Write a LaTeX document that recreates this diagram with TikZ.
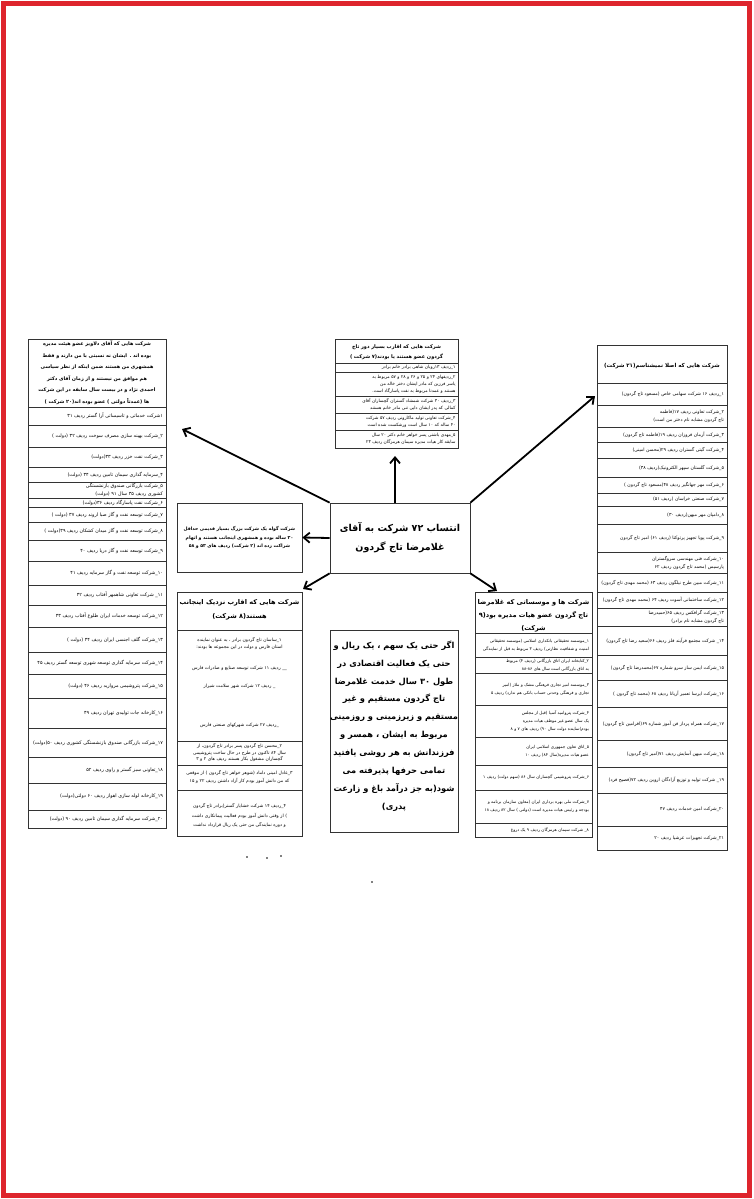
\documentclass[tikz,border=0pt]{standalone}
\usepackage{fontspec}
\usetikzlibrary{arrows.meta}
\newfontfamily\farsi[Script=Arabic]{DejaVu Sans}
\TeXXeTstate=1
\newcommand{\rtl}[1]{\beginR#1\endR}
\definecolor{frameR}{RGB}{222,37,45}

\tikzset{
  tbl/.style={draw=black!80, line width=0.7pt, inner sep=0pt},
  sep/.style={black!80, line width=0.6pt},
  cell/.style={font=\farsi\fontsize{4.8}{7.5}\selectfont, align=right, inner sep=0pt},
  hdr/.style={font=\farsi\bfseries\fontsize{4.9}{11.5}\selectfont, align=center, inner sep=0pt},
  arr/.style={-{Straight Barb[length=6pt,width=10pt]}, line width=1.8pt},
}

\begin{document}
\begin{tikzpicture}[x=1pt,y=-1pt]
\useasboundingbox (0,0) rectangle (753,1199);
\fill[white] (0,0) rectangle (753,1199);
\draw[frameR, line width=4.5pt] (3.5,3.5) rectangle (749.5,1195.5);

% left column (20 companies)
\node[tbl, anchor=north west, minimum width=138pt, minimum height=489pt] (colL) at (28,339) {};
\node[hdr, text width=133pt] (hL) at (97,373) {\rtl{شرکت هایی که آقای دلاویز عضو هیئت مدیره بوده اند . ایشان نه نسبتی با من دارند و فقط همشهری من هستند ضمن اینکه از نظر سیاسی هم موافق من نیستند و از زمان آقای دکتر احمدی نژاد و در بیست سال سابقه در این شرکت ها (عمدتاً دولتی ) عضو بوده اند(۲۰ شرکت )}};
\draw[sep] (28,407) -- (166,407);
\foreach \i/\a/\b/\t in {
  1/407/425/{۱شرکت خدماتی و تاسیساتی آرا گستر ردیف ۳۱},
  2/425/447/{۲\_شرکت بهینه سازی مصرف سوخت ردیف ۳۲ (دولت )},
  3/447/467/{۳\_شرکت نفت خزر ردیف ۳۳(دولت)},
  4/467/482/{۴\_سرمایه گذاری سیمان تامین ردیف ۳۴ (دولت)},
  5/482/498/{۵\_شرکت بازرگانی صندوق بازنشستگی کشوری ردیف ۳۵ سال ۹۱ (دولت)},
  6/498/507/{۶\_شرکت نفت پاسارگاد ردیف ۳۶(دولت)},
  7/507/522/{۷\_شرکت توسعه نفت و گاز صبا اروند ردیف ۳۷ (دولت )},
  8/522/540/{۸\_شرکت توسعه نفت و گاز میدان کشکان ردیف ۳۹(دولت )},
  9/540/561/{۹\_شرکت توسعه نفت و گاز دریا ردیف ۴۰},
  10/561/585/{۱۰\_شرکت توسعه نفت و گاز سرمایه ردیف ۴۱},
  11/585/605/{۱۱\_ شرکت تعاونی شاهمهر آفتاب ردیف ۴۲},
  12/605/627/{۱۲\_شرکت توسعه خدمات ایران طلوع آفتاب ردیف ۴۳},
  13/627/652/{۱۳\_شرکت گلف اجنسی ایران ردیف ۴۴ (دولت )},
  14/652/674/{۱۴\_شرکت سرمایه گذاری توسعه شهری توسعه گستر ردیف ۴۵},
  15/674/698/{۱۵\_شرکت پتروشیمی مروارید ردیف ۴۶ (دولت)},
  16/698/728/{۱۶\_کارخانه جات تولیدی تهران ردیف ۴۹},
  17/728/757/{۱۷\_شرکت بازرگانی صندوق بازنشستگی کشوری ردیف ۵۰(دولت)},
  18/757/783/{۱۸\_تعاونی سبز گستر و راوی ردیف ۵۲},
  19/783/810/{۱۹\_کارخانه لوله سازی اهواز ردیف ۶۰ دولتی(دولت)},
  20/810/828/{۲۰\_شرکت سرمایه گذاری سیمان تامین ردیف ۹۰ (دولت)}}{
  \draw[sep] (28,\b) -- (166,\b);
  \node[cell, text width=132pt] (l\i) at (97,{(\a+\b)/2}) {\rtl{\t}};
}

% top box (7 companies)
\node[tbl, anchor=north west, minimum width=123pt, minimum height=109pt] (colT) at (335,339) {};
\node[hdr, text width=117pt, font=\farsi\bfseries\fontsize{5}{10}\selectfont] (hT) at (396.5,352) {\rtl{شرکت هایی که اقارب بسیار دور تاج گردون عضو هستند یا بودند(۷ شرکت )}};
\draw[sep] (335,363) -- (458,363);
\foreach \i/\a/\b/\t in {
  1/363/372/{۱\_ردیف ۱۳روبان شاهی برادر خانم برادر},
  2/372/396/{۲\_ردیفهای ۲۴ و ۲۵ و ۲۶ و ۲۸ و ۵۷ مربوط به یاسر فرزین که مادر ایشان دختر خاله من هستند و عمدتا مربوط به نفت پاسارگاد است.},
  3/396/413/{۳\_ردیف ۳۰ شرکت شمشاد گستران گچساران آقای کمالی که پدر ایشان دایی تنی مادر خانم هستند},
  4/413/430/{۴\_شرکت تعاونی تولید ماکارونی ردیف ۵۷ شرکت ۴۰ ساله که ۱۰ سال است ورشکست شده است},
  5/430/448/{۵\_مهدی باشتی پسر خواهر خانم دکتر ۲۰ سال سابقه کار هیات مدیره سیمان هرمزگان ردیف ۲۳}}{
  \draw[sep] (335,\b) -- (458,\b);
  \node[cell, text width=118pt, font=\farsi\fontsize{4.4}{7}\selectfont] (t\i) at (396.5,{(\a+\b)/2}) {\rtl{\t}};
}

% right column (21 companies)
\node[tbl, anchor=north west, minimum width=130pt, minimum height=505pt] (colR) at (597,345) {};
\node[hdr, text width=124pt, font=\farsi\bfseries\fontsize{5.5}{10}\selectfont] (hR) at (662,366) {\rtl{شرکت هایی که اصلا نمیشناسم(۲۱ شرکت)}};
\draw[sep] (597,383) -- (727,383);
\foreach \i/\a/\b/\t in {
  1/383/405/{۱\_ردیف ۱۶ شرکت سهامی خاص (مسعود تاج گردون)},
  2/405/427/{۲\_شرکت تعاونی ردیف ۱۷(فاطمه تاج گردون مشابه نام دختر من است)},
  3/427/442/{۳\_شرکت آرمان فروزان ردیف ۱۹(فاطمه تاج گردون)},
  4/442/458/{۴\_شرکت گیتی گستران ردیف ۲۹(محسن امینی)},
  5/458/477/{۵\_شرکت گلستان سپهر الکترونیک(ردیف ۳۸)},
  6/477/493/{۶\_شرکت مهر جهانگیر ردیف ۴۸(مسعود تاج گردون )},
  7/493/506/{۷\_شرکت صنعتی خراسان (ردیف ۵۱)},
  8/506/524/{۸\_دامپان مهر میهن(ردیف ۳۰)},
  9/524/552/{۹\_شرکت پویا تجهیز پرتوکتا (ردیف ۶۱) امیر تاج گردون},
  10/552/573/{۱۰\_شرکت فنی مهندسی سروگستران پارسیس (محمد تاج گردون ردیف ۶۲},
  11/573/592/{۱۱\_شرکت مبین طرح نیلگون ردیف ۶۳ (محمد مهدی تاج گردون)},
  12/592/608/{۱۲\_شرکت ساختمانی آسوت ردیف ۶۴ (محمد مهدی تاج گردون)},
  13/608/626/{۱۳\_شرکت گرافکس ردیف ۶۵(حمیدرضا تاج گردون مشابه نام برادر)},
  14/626/655/{۱۴\_ شرکت مجتمع فرآیند فلز ردیف ۶۶(سعید رضا تاج گردون)},
  15/655/680/{۱۵\_شرکت ایمن ساز سرو شماره ۶۷(محمدرضا تاج گردون)},
  16/680/707/{۱۶\_شرکت ایرسا تعمیر آریانا ردیف ۶۸ (محمد تاج گردون )},
  17/707/740/{۱۷\_شرکت همراه پرداز فن آموز شماره ۶۹(افرامین تاج گردون)},
  18/740/767/{۱۸\_شرکت میهن آسایش ردیف ۷۱(امیر تاج گردون)},
  19/767/793/{۱۹\_ شرکت تولید و توزیع آزادگان اروین ردیف ۷۲(فصیح فرد)},
  20/793/826/{۲۰\_شرکت امین خدمات ردیف ۴۷},
  21/826/850/{۲۱\_شرکت تجهیزات عرشیا ردیف ۲۰}}{
  \draw[sep] (597,\b) -- (727,\b);
  \node[cell, text width=124pt, font=\farsi\fontsize{4.6}{8}\selectfont] (r\i) at (662,{(\a+\b)/2}) {\rtl{\t}};
}

% middle left boxes
\node[tbl, minimum width=125pt, minimum height=69pt, text width=121pt, align=center,
  font=\farsi\bfseries\fontsize{4.6}{8.8}\selectfont] (boxG) at (239.5,537.5)
  {\rtl{شرکت گوله یک شرکت بزرگ بسیار قدیمی حداقل}\\\rtl{۳۰ ساله بوده و همشهری اینجانب هستند و اتهام}\\\rtl{شراکت زده اند (۲ شرکت) ردیف های ۵۳ و ۵۸}};

\node[tbl, anchor=north west, minimum width=125pt, minimum height=244pt] (boxE) at (177,592) {};
\node[hdr, font=\farsi\bfseries\fontsize{6.6}{14}\selectfont] (hE) at (239.5,610) {\rtl{شرکت هایی که اقارب نزدیک اینجانب}\\\rtl{هستند(۸ شرکت)}};
\draw[sep] (177,630) -- (302,630);
\node[cell, text width=119pt, align=center, font=\farsi\fontsize{4.5}{7}\selectfont] (e1a) at (239.5,644) {\rtl{۱\_ساسان تاج گردون برادر ، به عنوان نماینده استان فارس و دولت در این مجموعه ها بودند:}};
\node[cell, text width=119pt, align=center, font=\farsi\fontsize{4.5}{7}\selectfont] (e1b) at (239.5,668) {\rtl{\_\_ ردیف ۱۱ شرکت توسعه صنایع و صادرات فارس}};
\node[cell, text width=119pt, align=center, font=\farsi\fontsize{4.5}{7}\selectfont] (e1c) at (239.5,686) {\rtl{\_ ردیف ۱۲ شرکت شهر سلامت شیراز}};
\node[cell, text width=119pt, align=center, font=\farsi\fontsize{4.5}{7}\selectfont] (e1d) at (239.5,725) {\rtl{\_ردیف ۲۷ شرکت شهرکهای صنعتی فارس}};
\draw[sep] (177,741) -- (302,741);
\node[cell, text width=119pt, align=center, font=\farsi\fontsize{4.5}{6.5}\selectfont] (e2) at (239.5,753) {\rtl{۲\_محسن تاج گردون پسر برادر تاج گردون، از سال ۸۴ تاکنون در طرح در حال ساخت پتروشیمی گچساران مشغول بکار هستند ردیف های ۲ و ۳}};
\draw[sep] (177,765) -- (302,765);
\node[cell, text width=119pt, align=center, font=\farsi\fontsize{4.5}{8}\selectfont] (e3) at (239.5,777) {\rtl{۳\_عادل امینی داماد (شوهر خواهر تاج گردون ) از موقعی که من دانش آموز بودم کار آزاد داشتن ردیف ۲۲ و ۱۵}};
\draw[sep] (177,790) -- (302,790);
\node[cell, text width=119pt, align=center, font=\farsi\fontsize{4.5}{9.5}\selectfont] (e4) at (239.5,816) {\rtl{۴\_ردیف ۱۴ شرکت خشایار گستر(برادر تاج گردون ) از وقتی دانش آموز بودم فعالیت پیمانکاری داشت و دوره نمایندگی من حتی یک ریال قرارداد نداشت}};

% centre
\node[tbl, minimum width=140pt, minimum height=70pt, align=center,
  font=\farsi\bfseries\fontsize{9.5}{19}\selectfont] (main) at (400,538)
  {\rtl{انتساب ۷۲ شرکت به آقای}\\\rtl{غلامرضا تاج گردون}};

\node[tbl, anchor=north west, minimum width=128pt, minimum height=202pt] (boxB) at (330,630) {};
\node[hdr, font=\farsi\bfseries\fontsize{8.3}{17.9}\selectfont] (tB) at (394,726)
  {\rtl{اگر حتی یک سهم ، یک ریال و}\\
   \rtl{حتی یک فعالیت اقتصادی در}\\
   \rtl{طول ۳۰ سال خدمت غلامرضا}\\
   \rtl{تاج گردون مستقیم و غیر}\\
   \rtl{مستقیم و زیرزمینی و روزمینی}\\
   \rtl{مربوط به ایشان ، همسر و}\\
   \rtl{فرزندانش به هر روشی یافتید}\\
   \rtl{تمامی حرفها پذیرفته می}\\
   \rtl{شود(به جز درآمد باغ و زارعت}\\
   \rtl{پدری)}};

% right middle box (9 institutions)
\node[tbl, anchor=north west, minimum width=117pt, minimum height=245pt] (boxK) at (475,592) {};
\node[hdr, font=\farsi\bfseries\fontsize{6.6}{13}\selectfont] (hK) at (533.5,616)
  {\rtl{شرکت ها و موسساتی که غلامرضا}\\\rtl{تاج گردون عضو هیات مدیره بود(۹}\\\rtl{شرکت)}};
\draw[sep] (475,633) -- (592,633);
\foreach \i/\a/\b/\t in {
  1/633/657/{۱\_موسسه تحقیقاتی بانکداری اسلامی (موسسه تحقیقاتی امنیت و شفافیت نظارتی) ردیف ۳ مربوط به قبل از نمایندگی},
  2/657/673/{۲\_کتابخانه ایران اتاق بازرگانی (ردیف ۴) مربوط به اتاق بازرگانی است سال های ۸۸-۸۶},
  3/673/705/{۳\_موسسه امیر تجاری فرهنگی مشک و ملاز (امیر تجاری و فرهنگی وحدتی حساب بانکی هم ندارد) ردیف ۵},
  4/705/737/{۴\_شرکت پتروامید آسیا (قبل از مجلس یک سال عضو غیر موظف هیات مدیره بودم)نماینده دولت سال ۹۰) ردیف های ۷ و ۸},
  5/737/765/{۵\_اتاق تعاون جمهوری اسلامی ایران عضو هیات مدیره(سال ۸۴) ردیف ۱۰},
  6/765/790/{۶\_شرکت پتروشیمی گچساران سال ۸۶ (سهم دولت) ردیف ۱},
  7/790/823/{۷\_شرکت ملی بهره برداری ایران (معاون سازمان برنامه و بودجه و رئیس هیات مدیره است (دولتی ) سال ۸۲ ردیف ۱۸},
  8/823/837/{۸\_ شرکت سیمان هرمزگان ردیف ۹ یک دروغ}}{
  \draw[sep] (475,\b) -- (592,\b);
  \node[cell, text width=111pt, font=\farsi\fontsize{4.2}{8}\selectfont] (k\i) at (533.5,{(\a+\b)/2}) {\rtl{\t}};
}

% arrows out of the centre
\coordinate (tipL) at (182,429);
\coordinate (tipT) at (395,456);
\coordinate (tipR) at (595,396);
\coordinate (tipE) at (303,589);
\coordinate (tipK) at (497,591);
\draw[arr] (main.north west) -- (tipL);
\draw[arr] (tipT |- main.north) -- (tipT);
\draw[arr] (main.north east) -- (tipR);
\draw[arr] (main.west) -- (boxG.east);
\draw[arr] (main.south west) -- (tipE);
\draw[arr] (main.south east) -- (tipK);

% specks under the boxes
\fill (247,857) circle (0.8);
\fill (267,858) circle (0.8);
\fill (281,856) circle (0.8);
\fill (372,882) circle (0.8);
\end{tikzpicture}
\end{document}
